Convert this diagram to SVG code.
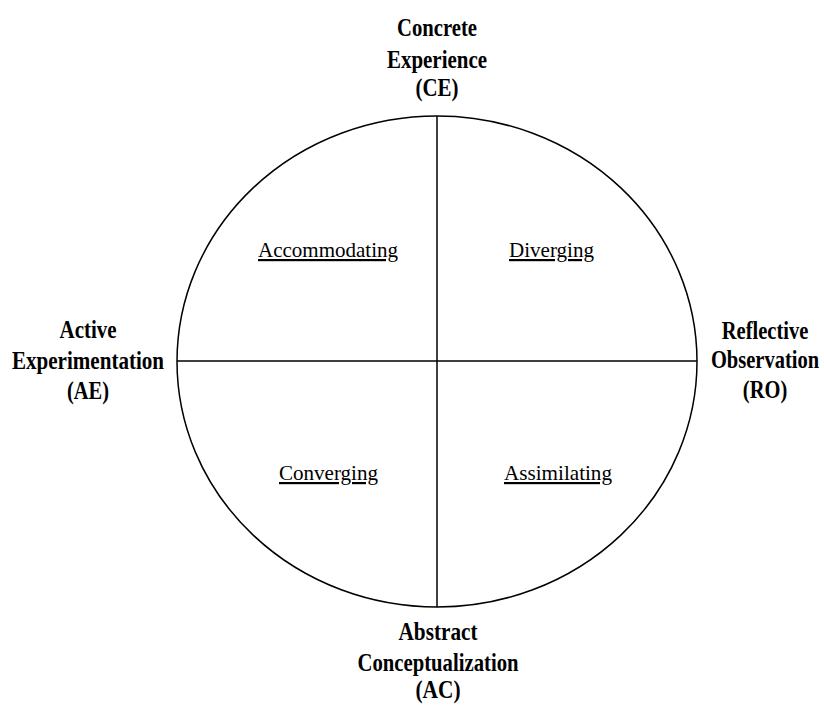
<svg xmlns="http://www.w3.org/2000/svg" width="824" height="706" viewBox="0 0 824 706">
<style>
.lbl{font-family:"Liberation Serif","Times New Roman",serif;font-weight:bold;font-size:26px;fill:#000;text-anchor:middle}
.r{font-size:25px}
.q{font-family:"Liberation Serif","Times New Roman",serif;font-size:22px;fill:#000;text-anchor:middle;text-decoration:underline}
.ln{fill:none;stroke:#000;stroke-width:1.5}
</style>
<rect width="824" height="706" fill="#fff"/>
<g id="connectors">
<ellipse class="ln" cx="437" cy="361.5" rx="260" ry="245.5"/>
<line class="ln" x1="437" y1="116" x2="437" y2="607"/>
<line class="ln" x1="177" y1="361" x2="697" y2="361"/>
</g>
<g id="ce">
<text class="lbl" x="437" y="36" textLength="80" lengthAdjust="spacingAndGlyphs">Concrete</text>
<text class="lbl" x="437" y="68" textLength="100" lengthAdjust="spacingAndGlyphs">Experience</text>
<text class="lbl" x="437" y="96" textLength="43" lengthAdjust="spacingAndGlyphs">(CE)</text>
</g>
<g id="ae">
<text class="lbl" x="88" y="338" textLength="57" lengthAdjust="spacingAndGlyphs">Active</text>
<text class="lbl" x="88" y="369" textLength="152" lengthAdjust="spacingAndGlyphs">Experimentation</text>
<text class="lbl" x="88" y="399" textLength="42" lengthAdjust="spacingAndGlyphs">(AE)</text>
</g>
<g id="ro" transform="translate(765,0) scale(0.82,1)">
<text class="lbl r" x="0" y="339">Reflective</text>
<text class="lbl r" x="0" y="368">Observation</text>
<text class="lbl r" x="0" y="398">(RO)</text>
</g>
<g id="ac">
<text class="lbl" x="438" y="640" textLength="79" lengthAdjust="spacingAndGlyphs">Abstract</text>
<text class="lbl" x="438" y="671" textLength="161" lengthAdjust="spacingAndGlyphs">Conceptualization</text>
<text class="lbl" x="438" y="698" textLength="45" lengthAdjust="spacingAndGlyphs">(AC)</text>
</g>
<g id="accommodating"><text class="q" x="328" y="257" textLength="140" lengthAdjust="spacingAndGlyphs">Accommodating</text></g>
<g id="diverging"><text class="q" x="551.5" y="257" textLength="85" lengthAdjust="spacingAndGlyphs">Diverging</text></g>
<g id="converging"><text class="q" x="328.5" y="480" textLength="99" lengthAdjust="spacingAndGlyphs">Converging</text></g>
<g id="assimilating"><text class="q" x="558" y="480" textLength="108" lengthAdjust="spacingAndGlyphs">Assimilating</text></g>
</svg>
